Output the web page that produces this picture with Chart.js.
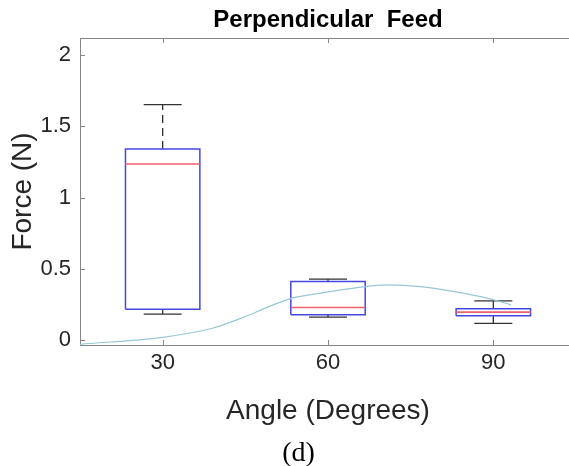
<!DOCTYPE html>
<html>
<head>
<meta charset="utf-8">
<script src="https://cdn.jsdelivr.net/npm/chart.js@4.4.1/dist/chart.umd.min.js"></script>
<style>
  html, body { margin: 0; padding: 0; background: #fff; overflow: hidden; }
  #wrap { position: relative; width: 597px; height: 466px; }
  #caption {
    position: absolute; left: 0; top: 438px; width: 597px;
    text-align: center; font: 28px/28px 'Liberation Serif', 'Times New Roman', serif; color: #000;
  }
</style>
</head>
<body>
<div id="wrap">
  <canvas id="chart"></canvas>
  <div id="caption">(d)</div>
</div>
<script>
// 數據
const angles = [30, 60, 90];
const whiskerLow = [0.184, 0.163, 0.120];
const q1 = [0.219, 0.179, 0.172];
const medians = [1.234, 0.230, 0.198];
const q3 = [1.339, 0.412, 0.221];
const whiskerHigh = [1.650, 0.429, 0.277];

const fitAngle = [15, 30, 39, 45, 48.6, 53.5, 58.7, 64.7, 70.8, 76.8, 82.9, 88.9, 93.2];
const fitForce = [-0.027, 0.022, 0.085, 0.167, 0.226, 0.296, 0.331, 0.366, 0.389, 0.377, 0.342, 0.296, 0.249];

const xTicks = [30, 60, 90];
const yTicks = [0, 0.5, 1, 1.5, 2];

// 外觀設定
const BOX_HALF = 6.75;
const CAP_HALF = 3.45;
const axisColor = '#858585';
const textColor = '#262626';
const font = 'Liberation Sans, Arial, Helvetica, sans-serif';

// 把線段串成一組資料，中間用 null 斷開
function joinPaths(paths) {
    const out = [];
    paths.forEach(path => {
        path.forEach(([x, y]) => out.push({ x, y }));
        out.push({ x: path[0][0], y: null });
    });
    return out;
}

const boxPaths = angles.map((a, i) => [
    [a - BOX_HALF, q1[i]], [a + BOX_HALF, q1[i]],
    [a + BOX_HALF, q3[i]], [a - BOX_HALF, q3[i]], [a - BOX_HALF, q1[i]]
]);
const medianPaths = angles.map((a, i) => [[a - BOX_HALF, medians[i]], [a + BOX_HALF, medians[i]]]);
const whiskerPaths = [];
angles.forEach((a, i) => {
    whiskerPaths.push([[a, q3[i]], [a, whiskerHigh[i]]]);
    whiskerPaths.push([[a, q1[i]], [a, whiskerLow[i]]]);
});
const capPaths = [];
angles.forEach((a, i) => {
    capPaths.push([[a - CAP_HALF, whiskerHigh[i]], [a + CAP_HALF, whiskerHigh[i]]]);
    capPaths.push([[a - CAP_HALF, whiskerLow[i]], [a + CAP_HALF, whiskerLow[i]]]);
});

const lineStyle = { pointRadius: 0, fill: false, spanGaps: false, tension: 0 };

// 上框線和向內的刻度
const matlabFrame = {
    id: 'matlabFrame',
    afterDatasetsDraw(chart) {
        const { ctx, chartArea: a, scales: { x, y } } = chart;
        ctx.save();
        ctx.strokeStyle = axisColor;
        ctx.lineWidth = 1;
        ctx.beginPath();
        ctx.moveTo(a.left, a.top + 0.5);
        ctx.lineTo(a.right, a.top + 0.5);
        xTicks.forEach(v => {
            const px = Math.round(x.getPixelForValue(v)) + 0.5;
            ctx.moveTo(px, a.bottom);
            ctx.lineTo(px, a.bottom - 5);
            ctx.moveTo(px, a.top);
            ctx.lineTo(px, a.top + 5);
        });
        yTicks.forEach(v => {
            const py = Math.round(y.getPixelForValue(v)) + 0.5;
            ctx.moveTo(a.left, py);
            ctx.lineTo(a.left + 5, py);
        });
        ctx.stroke();
        ctx.restore();
    }
};

new Chart(document.getElementById('chart'), {
    type: 'line',
    data: {
        datasets: [
            Object.assign({
                data: fitAngle.map((x, i) => ({ x, y: fitForce[i] })),
                borderColor: '#96c8d8', borderWidth: 1.2, tension: 0.4, cubicInterpolationMode: 'monotone'
            }, { pointRadius: 0, fill: false }),
            Object.assign({ data: joinPaths(medianPaths), borderColor: '#f0606e', borderWidth: 1.6 }, lineStyle),
            Object.assign({ data: joinPaths(capPaths), borderColor: '#333333', borderWidth: 1.3 }, lineStyle),
            Object.assign({ data: joinPaths(boxPaths), borderColor: '#4646e0', borderWidth: 1.5 }, lineStyle),
            Object.assign({ data: joinPaths(whiskerPaths), borderColor: '#333333', borderWidth: 1.3, borderDash: [8, 5] }, lineStyle)
        ]
    },
    options: {
        responsive: true,
        maintainAspectRatio: false,
        animation: false,
        layout: { padding: { left: 0, right: 21, top: 0, bottom: 38 } },
        plugins: {
            legend: { display: false },
            tooltip: { enabled: false },
            title: {
                display: true,
                text: 'Perpendicular  Feed',
                color: '#000',
                fullSize: false,
                font: { family: font, size: 24, weight: 'bold', lineHeight: 1.15 },
                padding: { top: 7, bottom: 3.4 }
            }
        },
        scales: {
            x: {
                type: 'linear',
                min: 15,
                max: 105,
                afterBuildTicks: s => { s.ticks = xTicks.map(v => ({ value: v })); },
                afterFit: s => { s.height = 83; },
                grid: { display: false, drawTicks: false },
                border: { color: axisColor, width: 1 },
                ticks: { color: textColor, padding: 5, font: { family: font, size: 22 } },
                title: {
                    display: true, text: 'Angle (Degrees)', color: textColor,
                    font: { family: font, size: 28 }, padding: { top: 0, bottom: 0 }
                }
            },
            y: {
                min: -0.032,
                max: 2.116,
                afterBuildTicks: s => { s.ticks = yTicks.map(v => ({ value: v })); },
                afterFit: s => { s.width = 80; },
                grid: { display: false, drawTicks: false },
                border: { color: axisColor, width: 1 },
                ticks: {
                    color: textColor, padding: 9, font: { family: font, size: 22 },
                    callback: v => String(v)
                },
                title: {
                    display: true, text: 'Force (N)', color: textColor,
                    font: { family: font, size: 28 }, padding: { top: 6, bottom: 0 }
                }
            }
        }
    },
    plugins: [matlabFrame]
});
</script>
</body>
</html>
